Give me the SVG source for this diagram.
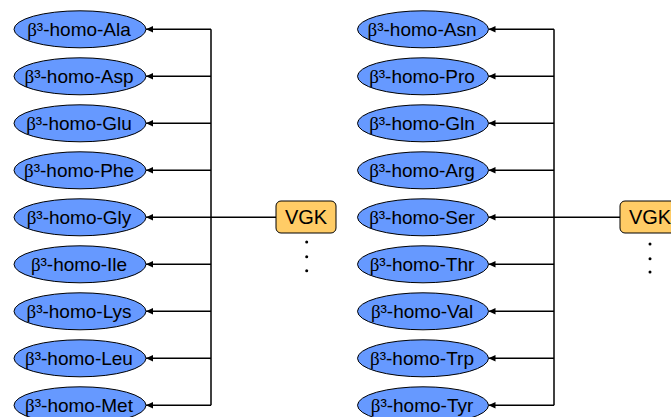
<svg xmlns="http://www.w3.org/2000/svg" width="671" height="417" viewBox="0 0 671 417">
<style>
.n ellipse{fill:#6699FF;stroke:#000;stroke-width:1}
.n text{font-family:"Liberation Sans",Arial,sans-serif;font-size:19px;fill:#000;text-anchor:middle}
.n .b{font-family:"Liberation Serif","Times New Roman",serif}
.v rect{fill:#FFCC66;stroke:#000;stroke-width:1}
.v text{font-family:"Liberation Sans",Arial,sans-serif;font-size:20px;fill:#000;text-anchor:middle}
.c line{stroke:#000;stroke-width:1.5}
.c .a{marker-end:url(#ah)}
.dot{fill:#000}
</style>
<defs>
<marker id="ah" markerWidth="8" markerHeight="8" refX="7" refY="4" orient="auto" markerUnits="userSpaceOnUse">
<path d="M0,0.8 L7,4 L0,7.2 Z" fill="#000"/>
</marker>
</defs>
<g id="connectors" class="c">
<line x1="211" y1="29.3" x2="211" y2="405.3"/>
<line x1="211" y1="217.3" x2="276" y2="217.3"/>
<line class="a" x1="211" y1="29.3" x2="146" y2="29.3"/>
<line class="a" x1="211" y1="76.3" x2="146" y2="76.3"/>
<line class="a" x1="211" y1="123.3" x2="146" y2="123.3"/>
<line class="a" x1="211" y1="170.3" x2="146" y2="170.3"/>
<line class="a" x1="211" y1="217.3" x2="146" y2="217.3"/>
<line class="a" x1="211" y1="264.3" x2="146" y2="264.3"/>
<line class="a" x1="211" y1="311.3" x2="146" y2="311.3"/>
<line class="a" x1="211" y1="358.3" x2="146" y2="358.3"/>
<line class="a" x1="211" y1="405.3" x2="146" y2="405.3"/>
<line x1="554" y1="29.3" x2="554" y2="405.3"/>
<line x1="554" y1="217.3" x2="620" y2="217.3"/>
<line class="a" x1="554" y1="29.3" x2="488.5" y2="29.3"/>
<line class="a" x1="554" y1="76.3" x2="488.5" y2="76.3"/>
<line class="a" x1="554" y1="123.3" x2="488.5" y2="123.3"/>
<line class="a" x1="554" y1="170.3" x2="488.5" y2="170.3"/>
<line class="a" x1="554" y1="217.3" x2="488.5" y2="217.3"/>
<line class="a" x1="554" y1="264.3" x2="488.5" y2="264.3"/>
<line class="a" x1="554" y1="311.3" x2="488.5" y2="311.3"/>
<line class="a" x1="554" y1="358.3" x2="488.5" y2="358.3"/>
<line class="a" x1="554" y1="405.3" x2="488.5" y2="405.3"/>
</g>
<g id="ala" class="n"><ellipse cx="80" cy="29.3" rx="66" ry="18.5"/><text x="79" y="36"><tspan class="b">β</tspan>³-homo-Ala</text></g>
<g id="asp" class="n"><ellipse cx="80" cy="76.3" rx="66" ry="18.5"/><text x="79" y="83"><tspan class="b">β</tspan>³-homo-Asp</text></g>
<g id="glu" class="n"><ellipse cx="80" cy="123.3" rx="66" ry="18.5"/><text x="79" y="130"><tspan class="b">β</tspan>³-homo-Glu</text></g>
<g id="phe" class="n"><ellipse cx="80" cy="170.3" rx="66" ry="18.5"/><text x="79" y="177"><tspan class="b">β</tspan>³-homo-Phe</text></g>
<g id="gly" class="n"><ellipse cx="80" cy="217.3" rx="66" ry="18.5"/><text x="79" y="224"><tspan class="b">β</tspan>³-homo-Gly</text></g>
<g id="ile" class="n"><ellipse cx="80" cy="264.3" rx="66" ry="18.5"/><text x="79" y="271"><tspan class="b">β</tspan>³-homo-Ile</text></g>
<g id="lys" class="n"><ellipse cx="80" cy="311.3" rx="66" ry="18.5"/><text x="79" y="318"><tspan class="b">β</tspan>³-homo-Lys</text></g>
<g id="leu" class="n"><ellipse cx="80" cy="358.3" rx="66" ry="18.5"/><text x="79" y="365"><tspan class="b">β</tspan>³-homo-Leu</text></g>
<g id="met" class="n"><ellipse cx="80" cy="405.3" rx="66" ry="18.5"/><text x="79" y="412"><tspan class="b">β</tspan>³-homo-Met</text></g>
<g id="vgk1" class="v"><rect x="276" y="201" width="60" height="32" rx="5"/><text x="306" y="224.3">VGK</text></g>
<g id="dots1" class="dot"><circle cx="306.7" cy="242" r="1.5"/><circle cx="306.7" cy="256.7" r="1.5"/><circle cx="306.7" cy="270.7" r="1.5"/></g>
<g id="asn" class="n"><ellipse cx="423" cy="29.3" rx="65.5" ry="18.5"/><text x="422" y="36"><tspan class="b">β</tspan>³-homo-Asn</text></g>
<g id="pro" class="n"><ellipse cx="423" cy="76.3" rx="65.5" ry="18.5"/><text x="422" y="83"><tspan class="b">β</tspan>³-homo-Pro</text></g>
<g id="gln" class="n"><ellipse cx="423" cy="123.3" rx="65.5" ry="18.5"/><text x="422" y="130"><tspan class="b">β</tspan>³-homo-Gln</text></g>
<g id="arg" class="n"><ellipse cx="423" cy="170.3" rx="65.5" ry="18.5"/><text x="422" y="177"><tspan class="b">β</tspan>³-homo-Arg</text></g>
<g id="ser" class="n"><ellipse cx="423" cy="217.3" rx="65.5" ry="18.5"/><text x="422" y="224"><tspan class="b">β</tspan>³-homo-Ser</text></g>
<g id="thr" class="n"><ellipse cx="423" cy="264.3" rx="65.5" ry="18.5"/><text x="422" y="271"><tspan class="b">β</tspan>³-homo-Thr</text></g>
<g id="val" class="n"><ellipse cx="423" cy="311.3" rx="65.5" ry="18.5"/><text x="422" y="318"><tspan class="b">β</tspan>³-homo-Val</text></g>
<g id="trp" class="n"><ellipse cx="423" cy="358.3" rx="65.5" ry="18.5"/><text x="422" y="365"><tspan class="b">β</tspan>³-homo-Trp</text></g>
<g id="tyr" class="n"><ellipse cx="423" cy="405.3" rx="65.5" ry="18.5"/><text x="422" y="412"><tspan class="b">β</tspan>³-homo-Tyr</text></g>
<g id="vgk2" class="v"><rect x="620" y="201" width="60" height="32" rx="5"/><text x="650" y="224.3">VGK</text></g>
<g id="dots2" class="dot"><circle cx="650" cy="244" r="1.5"/><circle cx="650" cy="258.7" r="1.5"/><circle cx="650" cy="272" r="1.5"/></g>
</svg>
